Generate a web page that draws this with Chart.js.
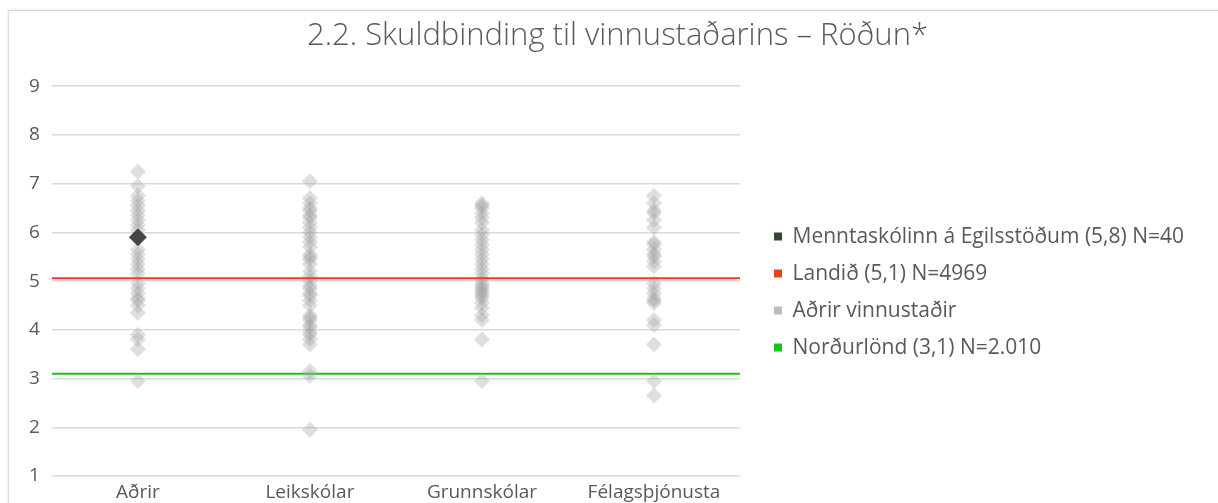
<!DOCTYPE html>
<html>
<head>
<meta charset="utf-8">
<script src="https://cdn.jsdelivr.net/npm/chart.js@4/dist/chart.umd.min.js"></script>
<style>
  html, body { margin: 0; padding: 0; background: #ffffff; }
  #wrap { position: relative; width: 1218px; height: 503px; overflow: hidden; }
  #card { position: absolute; left: 8px; top: 10px; width: 1220px; height: 500px;
          border-left: 1px solid #dcdcdc; border-top: 1px solid #d4d4d4;
          box-shadow: -1px -1px 2px rgba(0,0,0,0.06); }
  #c { position: absolute; left: 0; top: 0; }
</style>
</head>
<body>
<div id="wrap">
  <div id="card"></div>
  <canvas id="c" width="1218" height="503"></canvas>
</div>
<script>
const titleText = "2.2. Skuldbinding til vinnustaðarins – Röðun*";
const categories = ["Aðrir", "Leikskólar", "Grunnskólar", "Félagsþjónusta"];
const yTicks = [1, 2, 3, 4, 5, 6, 7, 8, 9];

const seriesLabels = [
  "Menntaskólinn á Egilsstöðum (5,8) N=40",
  "Landið (5,1) N=4969",
  "Aðrir vinnustaðir",
  "Norðurlönd (3,1) N=2.010"
];

// Highlighted workplace (in category "Aðrir")
const schoolCategory = "Aðrir";
const schoolValue = 5.9;
// Reference lines
const landValue = 5.06;
const nordicValue = 3.1;

// Other workplaces, per category
const adrirValues = [7.25, 6.95, 6.75, 6.65, 6.55, 6.45, 6.35, 6.25, 6.15, 6.05, 5.65, 5.55, 5.45, 5.35, 5.25, 5.15, 4.95, 4.85, 4.75, 4.65, 4.6, 4.5, 4.35, 3.9, 3.8, 3.6, 2.95];
const leikskolarValues = [7.05, 6.7, 6.6, 6.5, 6.45, 6.35, 6.3, 6.2, 6.1, 6.0, 5.9, 5.8, 5.7, 5.55, 5.5, 5.45, 5.35, 5.2, 5.1, 5.0, 4.9, 4.85, 4.75, 4.7, 4.6, 4.5, 4.3, 4.25, 4.2, 4.1, 4.05, 3.95, 3.9, 3.8, 3.7, 3.15, 3.05, 1.95];
const grunnskolarValues = [6.6, 6.55, 6.5, 6.4, 6.3, 6.2, 6.05, 5.95, 5.85, 5.75, 5.65, 5.55, 5.45, 5.35, 5.25, 5.15, 5.05, 4.95, 4.9, 4.85, 4.8, 4.75, 4.7, 4.65, 4.55, 4.45, 4.3, 4.2, 3.8, 2.95];
const felagsValues = [6.75, 6.6, 6.45, 6.4, 6.25, 6.1, 5.8, 5.75, 5.65, 5.55, 5.5, 5.4, 5.3, 4.95, 4.85, 4.75, 4.65, 4.6, 4.55, 4.2, 4.1, 3.7, 2.95, 2.65];

const legendColors = ["#34492f", "#e8401f", "#bdbdbd", "#19c419"];

const otherPoints = [];
[adrirValues, leikskolarValues, grunnskolarValues, felagsValues].forEach((arr, i) => {
  arr.forEach(v => otherPoints.push({ x: categories[i], y: v }));
});

const FONT = "'Open Sans', 'Noto Sans', sans-serif";
const TEXT = "#595959";

// Legend box geometry: reserve a wide legend column and nudge it
const LEGEND_WIDTH = 478;
const LEGEND_SHIFT_X = 18;
const LEGEND_SHIFT_Y = 11;
const X_AXIS_HEIGHT = 27;

const legendLayoutPlugin = {
  id: 'legendLayout',
  afterInit(chart) {
    const lg = chart.legend;
    if (!lg) return;
    const origFit = lg.fit;
    lg.fit = function () {
      origFit.call(this);
      this.width = LEGEND_WIDTH;
    };
  },
  afterLayout(chart) {
    const lg = chart.legend;
    if (!lg) return;
    lg.left += LEGEND_SHIFT_X;
    lg.right += LEGEND_SHIFT_X;
    lg.top += LEGEND_SHIFT_Y;
    lg.bottom += LEGEND_SHIFT_Y;
  }
};

new Chart(document.getElementById('c'), {
  type: 'scatter',
  plugins: [legendLayoutPlugin],
  data: {
    datasets: [
      {
        type: 'scatter',
        label: seriesLabels[0],
        data: [{ x: schoolCategory, y: schoolValue }],
        xAxisID: 'x',
        pointStyle: 'rectRot',
        pointRadius: 9,
        pointHoverRadius: 9,
        backgroundColor: '#464646',
        borderColor: '#464646',
        borderWidth: 0
      },
      {
        type: 'line',
        label: seriesLabels[1],
        data: [{ x: 0, y: landValue }, { x: 1, y: landValue }],
        xAxisID: 'xLine',
        borderColor: '#ff3030',
        borderWidth: 2,
        pointRadius: 0,
        fill: false
      },
      {
        type: 'scatter',
        label: seriesLabels[2],
        data: otherPoints,
        xAxisID: 'x',
        pointStyle: 'rectRot',
        pointRadius: 8,
        pointHoverRadius: 8,
        backgroundColor: 'rgba(160,160,160,0.34)',
        borderColor: 'rgba(160,160,160,0)',
        borderWidth: 0
      },
      {
        type: 'line',
        label: seriesLabels[3],
        data: [{ x: 0, y: nordicValue }, { x: 1, y: nordicValue }],
        xAxisID: 'xLine',
        borderColor: '#16c416',
        borderWidth: 2,
        pointRadius: 0,
        fill: false
      }
    ]
  },
  options: {
    responsive: false,
    animation: false,
    layout: { padding: { left: 17, right: 0, top: 0, bottom: 0 } },
    scales: {
      x: {
        type: 'category',
        labels: categories,
        offset: true,
        grid: { display: false, drawTicks: false },
        border: { display: false },
        ticks: { color: TEXT, font: { family: FONT, size: 19 }, padding: 5, maxRotation: 0 },
        afterFit: (scale) => { scale.height = X_AXIS_HEIGHT; }
      },
      xLine: {
        type: 'linear',
        min: 0,
        max: 1,
        display: false
      },
      y: {
        type: 'linear',
        min: yTicks[0],
        max: yTicks[yTicks.length - 1],
        afterBuildTicks: (scale) => { scale.ticks = yTicks.map(v => ({ value: v })); },
        grid: { color: '#d9d9d9', lineWidth: 1.5, drawTicks: false },
        border: { display: false },
        ticks: { color: TEXT, font: { family: FONT, size: 19 }, padding: 12 }
      }
    },
    plugins: {
      title: {
        display: true,
        text: titleText,
        color: TEXT,
        font: { family: FONT, size: 31, weight: '300' },
        padding: { top: 18, bottom: 31 }
      },
      legend: {
        position: 'right',
        align: 'center',
        fullSize: false,
        labels: {
          color: TEXT,
          font: { family: FONT, size: 21 },
          boxWidth: 8,
          boxHeight: 8,
          padding: 16,
          generateLabels: (chart) => chart.data.datasets.map((ds, i) => ({
            text: ds.label,
            fillStyle: legendColors[i],
            strokeStyle: legendColors[i],
            lineWidth: 0,
            fontColor: TEXT,
            hidden: !chart.isDatasetVisible(i),
            datasetIndex: i
          }))
        }
      },
      tooltip: { enabled: false }
    }
  }
});
</script>
</body>
</html>
